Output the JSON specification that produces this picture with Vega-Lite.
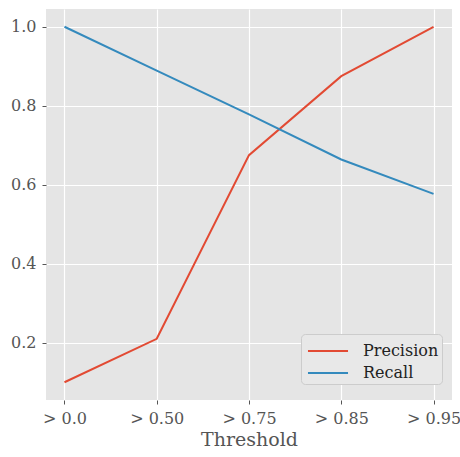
{
  "$schema": "https://vega.github.io/schema/vega-lite/v6.json",
  "width": 406,
  "height": 391,
  "autosize": {"type": "none"},
  "padding": {"left": 46, "top": 9, "right": 8, "bottom": 57},
  "background": "white",
  "config": {
    "view": {"fill": "#E5E5E5", "stroke": null},
    "font": "DejaVu Serif",
    "axis": {
      "gridColor": "white",
      "gridWidth": 1.2,
      "grid": true,
      "domain": false,
      "tickColor": "#555555",
      "tickSize": 4,
      "labelColor": "#555555",
      "labelFont": "DejaVu Serif",
      "labelFontSize": 16,
      "titleFont": "DejaVu Serif",
      "titleColor": "#555555",
      "titleFontSize": 19,
      "titleFontWeight": "normal"
    }
  },
  "data": {
    "values": [
      {"threshold": "> 0.0", "metric": "Precision", "value": 0.1},
      {"threshold": "> 0.50", "metric": "Precision", "value": 0.21},
      {"threshold": "> 0.75", "metric": "Precision", "value": 0.675},
      {"threshold": "> 0.85", "metric": "Precision", "value": 0.875},
      {"threshold": "> 0.95", "metric": "Precision", "value": 1.0},
      {"threshold": "> 0.0", "metric": "Recall", "value": 1.0},
      {"threshold": "> 0.50", "metric": "Recall", "value": 0.889},
      {"threshold": "> 0.75", "metric": "Recall", "value": 0.778},
      {"threshold": "> 0.85", "metric": "Recall", "value": 0.664},
      {"threshold": "> 0.95", "metric": "Recall", "value": 0.577}
    ]
  },
  "mark": {"type": "line", "strokeWidth": 2},
  "encoding": {
    "x": {
      "field": "threshold",
      "type": "ordinal",
      "sort": ["> 0.0", "> 0.50", "> 0.75", "> 0.85", "> 0.95"],
      "scale": {"type": "point", "padding": 0.2},
      "axis": {"labelAngle": 0, "title": "Threshold", "labelPadding": 6, "titlePadding": 4, "grid": true}
    },
    "y": {
      "field": "value",
      "type": "quantitative",
      "scale": {"domain": [0.055, 1.045], "nice": false, "zero": false},
      "axis": {"values": [0.2, 0.4, 0.6, 0.8, 1.0], "format": ".1f", "title": null, "labelPadding": 6}
    },
    "color": {
      "field": "metric",
      "type": "nominal",
      "scale": {"domain": ["Precision", "Recall"], "range": ["#E24A33", "#348ABD"]},
      "legend": {
        "title": null,
        "orient": "none",
        "legendX": 255,
        "legendY": 325,
        "symbolType": "M-1.54,0H1.54",
        "symbolSize": 676,
        "symbolStrokeWidth": 2,
        "symbolOffset": 10,
        "labelFontSize": 16,
        "labelFont": "DejaVu Serif",
        "labelColor": "#222222",
        "fillColor": "#E8E8E8",
        "strokeColor": "#CCCCCC",
        "cornerRadius": 4,
        "padding": 3,
        "rowPadding": 0,
        "labelOffset": 21
      }
    }
  }
}
